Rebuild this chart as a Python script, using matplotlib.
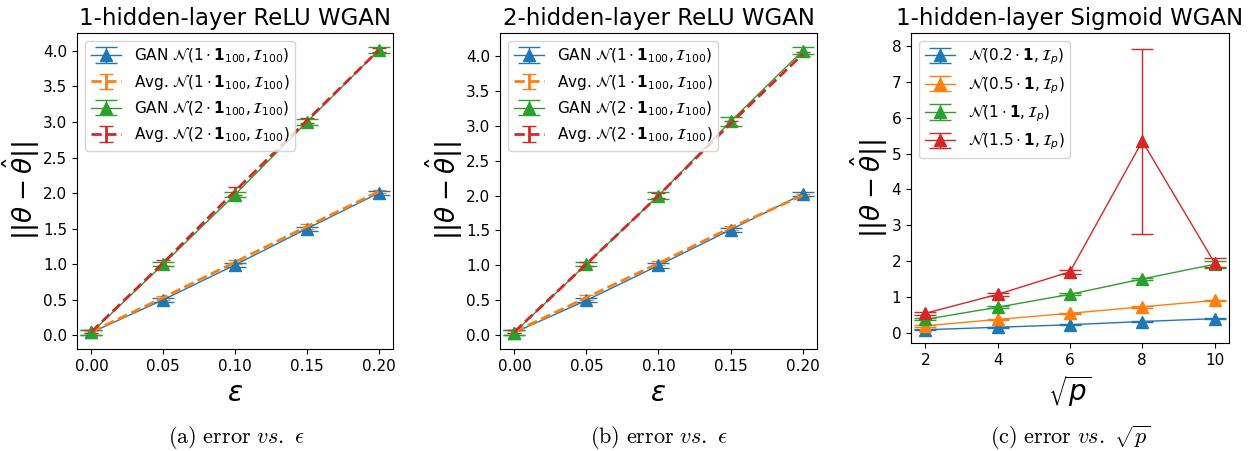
import numpy as np
import matplotlib
matplotlib.use("Agg")
import matplotlib.pyplot as plt

# panel (a) / (b): error vs epsilon
eps = [0.0, 0.05, 0.10, 0.15, 0.20]

a_gan1 = [0.04, 0.50, 0.99, 1.50, 2.00]
a_gan1_err = [0.03, 0.03, 0.03, 0.03, 0.03]
a_avg1 = [0.05, 0.53, 1.03, 1.53, 2.02]
a_avg1_err = [0.02, 0.03, 0.03, 0.03, 0.02]
a_gan2 = [0.04, 1.00, 1.98, 3.00, 4.01]
a_gan2_err = [0.03, 0.03, 0.04, 0.04, 0.04]
a_avg2 = [0.05, 1.02, 2.03, 3.02, 4.01]
a_avg2_err = [0.02, 0.04, 0.05, 0.03, 0.03]

b_gan1 = [0.04, 0.50, 1.00, 1.51, 2.02]
b_gan1_err = [0.03, 0.03, 0.03, 0.03, 0.03]
b_avg1 = [0.05, 0.54, 1.03, 1.54, 2.00]
b_avg1_err = [0.02, 0.03, 0.03, 0.03, 0.02]
b_gan2 = [0.04, 1.02, 2.00, 3.06, 4.07]
b_gan2_err = [0.03, 0.03, 0.05, 0.07, 0.05]
b_avg2 = [0.05, 1.02, 2.00, 3.03, 4.02]
b_avg2_err = [0.02, 0.03, 0.04, 0.04, 0.03]

# panel (c): error vs sqrt(p)
sqrt_p = [2, 4, 6, 8, 10]
c_means = [
    [0.08, 0.15, 0.22, 0.31, 0.39],
    [0.19, 0.37, 0.54, 0.72, 0.90],
    [0.37, 0.71, 1.07, 1.50, 1.91],
    [0.54, 1.07, 1.70, 5.35, 1.95],
]
c_errs = [
    [0.02, 0.02, 0.02, 0.02, 0.02],
    [0.02, 0.02, 0.02, 0.02, 0.02],
    [0.03, 0.03, 0.03, 0.04, 0.10],
    [0.04, 0.05, 0.06, 2.59, 0.13],
]
c_labels = [r"$\mathcal{N}(0.2\cdot\mathbf{1},\mathcal{I}_p)$",
            r"$\mathcal{N}(0.5\cdot\mathbf{1},\mathcal{I}_p)$",
            r"$\mathcal{N}(1\cdot\mathbf{1},\mathcal{I}_p)$",
            r"$\mathcal{N}(1.5\cdot\mathbf{1},\mathcal{I}_p)$"]

colors = ["#1f77b4", "#ff7f0e", "#2ca02c", "#d62728"]
ylab = r"$||\theta-\hat{\theta}||$"


def relu_panel(ax, title, gan1, gan1e, avg1, avg1e, gan2, gan2e, avg2, avg2e):
    ax.errorbar(eps, gan1, yerr=gan1e, marker="^", ms=8, lw=1, capsize=8,
                color=colors[0],
                label=r"GAN $\mathcal{N}(1\cdot\mathbf{1}_{100},\mathcal{I}_{100})$")
    ax.errorbar(eps, avg1, yerr=avg1e, ls="--", lw=2, capsize=5,
                color=colors[1],
                label=r"Avg. $\mathcal{N}(1\cdot\mathbf{1}_{100},\mathcal{I}_{100})$")
    ax.errorbar(eps, gan2, yerr=gan2e, marker="^", ms=8, lw=1, capsize=8,
                color=colors[2],
                label=r"GAN $\mathcal{N}(2\cdot\mathbf{1}_{100},\mathcal{I}_{100})$")
    ax.errorbar(eps, avg2, yerr=avg2e, ls="--", lw=2, capsize=5,
                color=colors[3],
                label=r"Avg. $\mathcal{N}(2\cdot\mathbf{1}_{100},\mathcal{I}_{100})$")
    ax.set_title(title, fontsize=16.5)
    ax.set_xlabel(r"$\varepsilon$", fontsize=20)
    ax.set_ylabel(ylab, fontsize=19, labelpad=1)
    ax.set_xticks(eps)
    ax.set_yticks(np.arange(0, 4.01, 0.5))
    ax.tick_params(labelsize=11)
    ax.legend(loc="upper left", fontsize=11)


fig = plt.figure(figsize=(12.55, 4.51), dpi=100)
ax1 = fig.add_axes([0.0614, 0.2262, 0.2518, 0.7007])
ax2 = fig.add_axes([0.3984, 0.2262, 0.2526, 0.7007])
ax3 = fig.add_axes([0.7259, 0.2395, 0.2534, 0.687])

relu_panel(ax1, "1-hidden-layer ReLU WGAN", a_gan1, a_gan1_err, a_avg1, a_avg1_err,
           a_gan2, a_gan2_err, a_avg2, a_avg2_err)
relu_panel(ax2, "2-hidden-layer ReLU WGAN", b_gan1, b_gan1_err, b_avg1, b_avg1_err,
           b_gan2, b_gan2_err, b_avg2, b_avg2_err)

for m, e, c, lab in zip(c_means, c_errs, colors, c_labels):
    ax3.errorbar(sqrt_p, m, yerr=e, marker="^", ms=8, lw=1, capsize=8,
                 color=c, label=lab)
ax3.set_title("1-hidden-layer Sigmoid WGAN", fontsize=16.5)
ax3.set_xlabel(r"$\sqrt{p}$", fontsize=20)
ax3.set_ylabel(ylab, fontsize=19, labelpad=1)
ax3.set_xticks(sqrt_p)
ax3.set_ylim(-0.29, 8.37)
ax3.tick_params(labelsize=11)
ax3.legend(loc="upper left", fontsize=11)

plt.rcParams["mathtext.fontset"] = "cm"
cap_kw = dict(ha="center", va="center", fontsize=16)
fig.text(0.188, 0.03, r"$\mathrm{(a)\ error}\ vs.\ \epsilon$", **cap_kw)
fig.text(0.525, 0.03, r"$\mathrm{(b)\ error}\ vs.\ \epsilon$", **cap_kw)
fig.text(0.853, 0.03, r"$\mathrm{(c)\ error}\ vs.\ \sqrt{p}$", **cap_kw)

fig.savefig("out.png", dpi=100)
